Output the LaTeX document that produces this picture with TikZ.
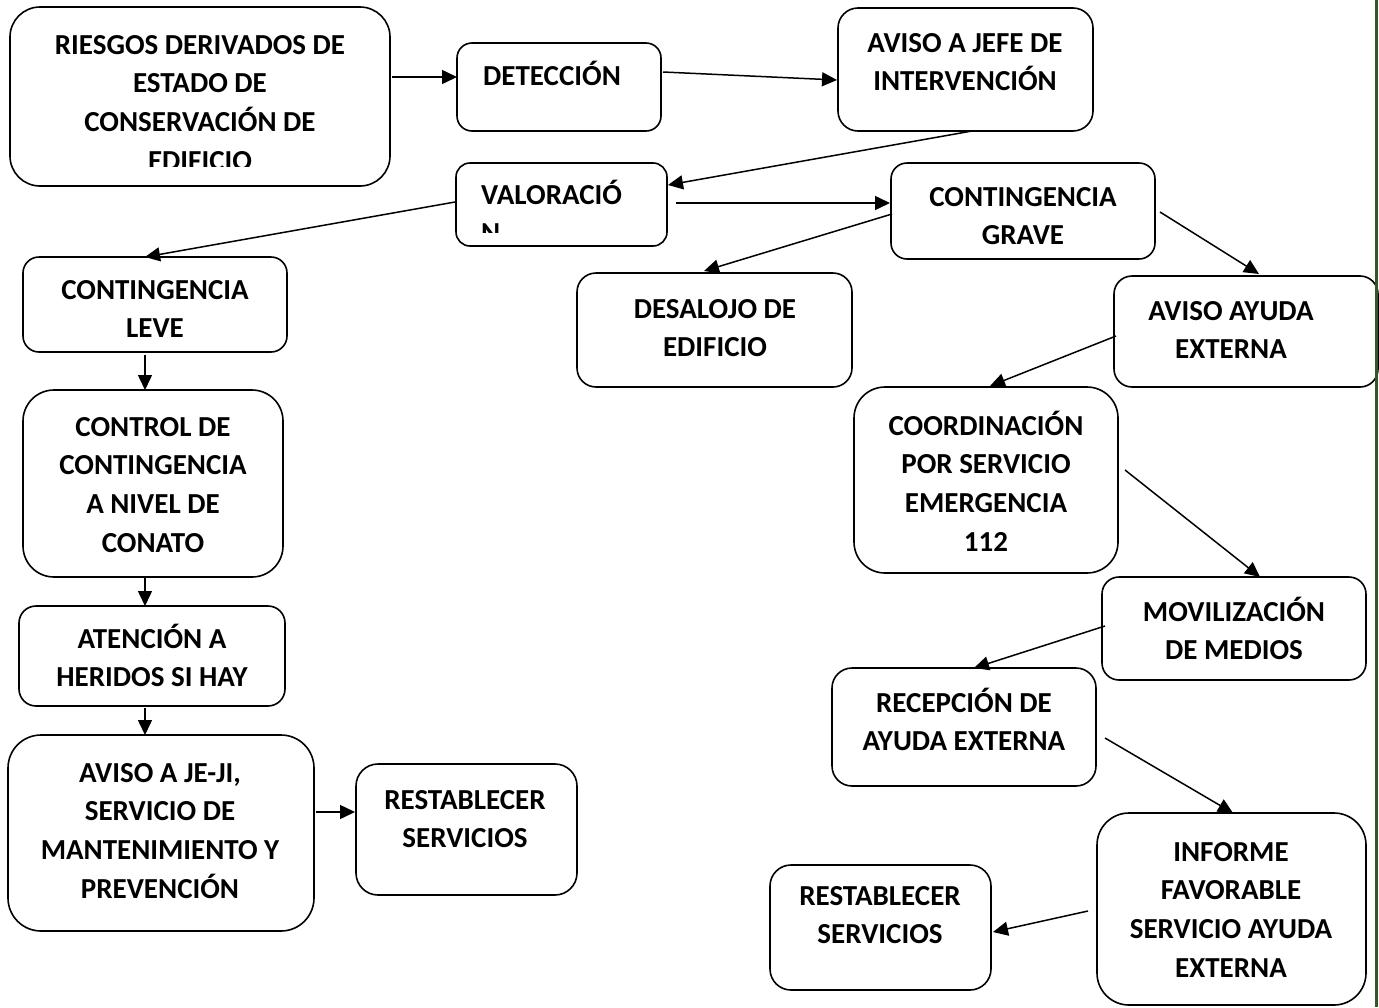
\documentclass[tikz,border=0pt]{standalone}
\usepackage{fontspec}
\setmainfont{Carlito}
\usetikzlibrary{arrows.meta}
\definecolor{edgegreen}{HTML}{375623}
\tikzset{
  box/.style={draw, line width=1.6pt, inner sep=0pt, outer sep=0pt},
  txt/.style={anchor=base, inner sep=0pt, font=\bfseries\fontsize{29}{38}\selectfont},
  txtl/.style={txt, anchor=base west},
  conn/.style={line width=1.5pt, -{Triangle[length=15pt,width=14pt]}},
  greenrule/.style={edgegreen, line width=3pt}
}
\newcommand\txtlines[4]{%
  \foreach \l [count=\i] in {#4} {\node[txt] (#1-\i) at (#2, {#3+9.2+(\i-1)*38.6}) {\l};}}
\begin{document}
\begin{tikzpicture}[x=1pt,y=-1pt]
\fill[white] (0,0) rectangle (1379,1007);
\useasboundingbox (0,0) rectangle (1379,1007);

% boxes
\node[box, minimum width=380, minimum height=179, rounded corners=30] (riesgos) at (200,96.5) {};
\node[box, minimum width=204, minimum height=88, rounded corners=15] (detec) at (559,87) {};
\node[box, minimum width=255, minimum height=123, rounded corners=20] (jefe) at (965.5,69.5) {};
\node[box, minimum width=211, minimum height=83, rounded corners=14] (valor) at (561.5,204.5) {};
\node[box, minimum width=264, minimum height=96, rounded corners=16] (grave) at (1023,211) {};
\node[box, minimum width=264, minimum height=95, rounded corners=16] (leve) at (155,304.5) {};
\node[box, minimum width=275, minimum height=114, rounded corners=19] (desalojo) at (714.5,330) {};
\node[box, minimum width=264, minimum height=111, rounded corners=18] (ayuda) at (1246,331.5) {};
\node[box, minimum width=260, minimum height=187, rounded corners=31] (control) at (153,483.5) {};
\node[box, minimum width=264, minimum height=186, rounded corners=31] (coord) at (986,480) {};
\node[box, minimum width=266, minimum height=100, rounded corners=17] (atencion) at (152,656) {};
\node[box, minimum width=264, minimum height=103, rounded corners=17] (movil) at (1234,628.5) {};
\node[box, minimum width=264, minimum height=118, rounded corners=20] (recep) at (964,727) {};
\node[box, minimum width=306, minimum height=196, rounded corners=33] (avisoje) at (161,833) {};
\node[box, minimum width=221, minimum height=131, rounded corners=22] (restL) at (466.5,829.5) {};
\node[box, minimum width=269, minimum height=192, rounded corners=32] (informe) at (1231.5,909) {};
\node[box, minimum width=221, minimum height=125, rounded corners=21] (restR) at (880.5,927.5) {};

% texts
\begin{scope}
\clip (0,0) rectangle (1379,166);
\txtlines{triesgos}{200}{45}{RIESGOS DERIVADOS DE, ESTADO DE, CONSERVACIÓN DE, EDIFICIO}
\end{scope}
\node[txtl] (tdetec) at (483,{76+9.2}) {DETECCIÓN};
\txtlines{tjefe}{965}{43}{AVISO A JEFE DE, INTERVENCIÓN}
\begin{scope}
\clip (0,0) rectangle (1379,232);
\node[txtl] (tvalor-1) at (481,{195+9.2}) {VALORACIÓ};
\node[txtl] (tvalor-2) at (481,{195+38.6+9.2}) {N};
\end{scope}
\txtlines{tgrave}{1023}{197}{CONTINGENCIA, GRAVE}
\txtlines{tleve}{155}{290}{CONTINGENCIA, LEVE}
\txtlines{tdesalojo}{715}{309}{DESALOJO DE, EDIFICIO}
\txtlines{tayuda}{1231}{311}{AVISO AYUDA, EXTERNA}
\txtlines{tcontrol}{153}{427}{CONTROL DE, CONTINGENCIA, A NIVEL DE, CONATO}
\txtlines{tcoord}{986}{426}{COORDINACIÓN, POR SERVICIO, EMERGENCIA, 112}
\txtlines{tatencion}{152}{639}{ATENCIÓN A, HERIDOS SI HAY}
\txtlines{tmovil}{1234}{612}{MOVILIZACIÓN, DE MEDIOS}
\txtlines{trecep}{964}{703}{RECEPCIÓN DE, AYUDA EXTERNA}
\txtlines{tavisoje}{160}{773}{{AVISO A JE-JI,}, SERVICIO DE, MANTENIMIENTO Y, PREVENCIÓN}
\txtlines{trestL}{465}{800}{RESTABLECER, SERVICIOS}
\txtlines{tinforme}{1231}{852}{INFORME, FAVORABLE, SERVICIO AYUDA, EXTERNA}
\txtlines{trestR}{880}{896}{RESTABLECER, SERVICIOS}

% connectors
\draw[conn] ([xshift=2pt,yshift=19.5pt]riesgos.east) -- ([yshift=10pt]detec.west);
\draw[conn] ([xshift=2pt,yshift=15pt]detec.east) -- ([xshift=-1pt,yshift=-10.5pt]jefe.west);
\draw[conn] ([xshift=6.5pt]jefe.south) -- ([xshift=1pt,yshift=19.5pt]valor.east);
\draw[conn] ([xshift=9pt,yshift=1.5pt]valor.east) -- ([xshift=-1pt,yshift=8pt]grave.west);
\draw[conn] ([xshift=-1pt,yshift=2.5pt]valor.west) -- ([xshift=-10pt]leve.north);
\draw[conn] ([xshift=1pt,yshift=-3pt]grave.west) -- ([xshift=-10.5pt,yshift=2pt]desalojo.north);
\draw[conn] ([xshift=5pt,yshift=-1pt]grave.east) -- ([xshift=13pt,yshift=2pt]ayuda.north);
\draw[conn] ([xshift=2pt,yshift=-4.5pt]ayuda.west) -- ([xshift=4pt,yshift=1pt]coord.north);
\draw[conn] ([xshift=7pt,yshift=10pt]coord.east) -- ([xshift=26pt]movil.north);
\draw[conn] ([xshift=3pt,yshift=2.5pt]movil.west) -- ([xshift=10pt]recep.north);
\draw[conn] ([xshift=9pt,yshift=-11pt]recep.east) -- ([xshift=1.5pt]informe.north);
\draw[conn] ([xshift=-9pt,yshift=-2pt]informe.west) -- ([xshift=2pt,yshift=-4.5pt]restR.east);
\draw[conn] ([xshift=-10pt,yshift=-3pt]leve.south) -- ([xshift=-8pt]control.north);
\draw[conn] ([xshift=-8pt,yshift=-1pt]control.south) -- ([xshift=-7pt]atencion.north);
\draw[conn] ([xshift=-7pt,yshift=-2pt]atencion.south) -- ([xshift=-16pt]avisoje.north);
\draw[conn] ([xshift=2pt,yshift=21pt]avisoje.east) -- ([xshift=-1pt,yshift=17.5pt]restL.west);

% page edge rule
\coordinate (ruletop) at (1376,0);
\coordinate (rulebot) at (1376,1007);
\draw[greenrule] (ruletop) -- (rulebot);
\end{tikzpicture}
\end{document}
